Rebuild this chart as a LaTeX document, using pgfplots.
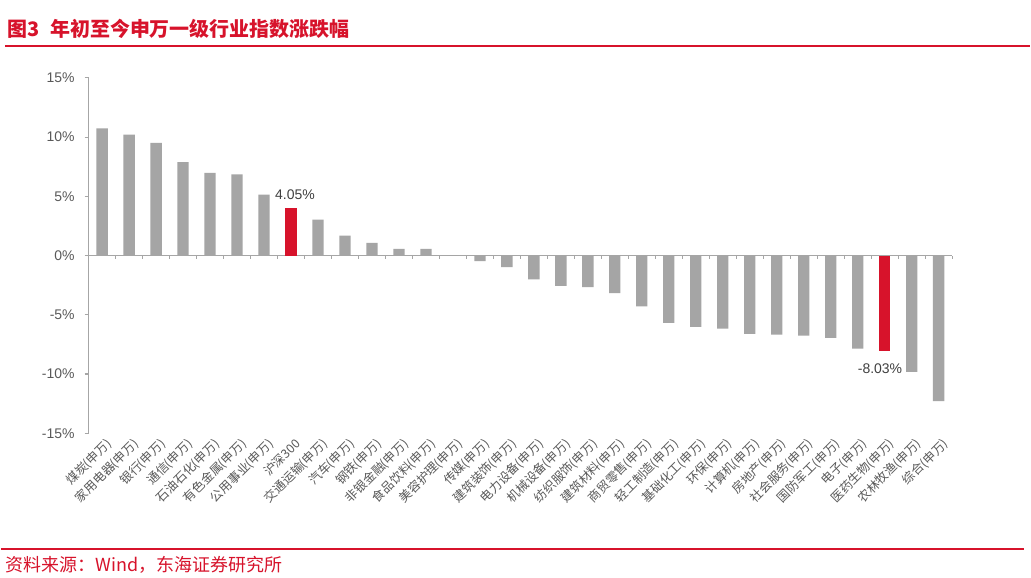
\documentclass[border=0pt]{standalone}
\usepackage{pgfplots}
\pgfplotsset{compat=1.18}
\usepackage{fontspec}
\setmainfont{Liberation Sans}
\newfontfamily\cjk{Noto Sans CJK SC}
\definecolor{dhred}{HTML}{D7132B}
\definecolor{bargray}{HTML}{A5A5A5}
\definecolor{axgray}{HTML}{A6A6A6}
\definecolor{txtgray}{HTML}{595959}

% index, value (%)
\pgfplotstableread{
x y
0 10.73
1 10.20
2 9.52
3 7.89
4 6.99
5 6.85
6 5.15
8 3.04
9 1.69
10 1.07
11 0.56
12 0.56
13 0.00
14 -0.48
15 -0.98
16 -2.02
17 -2.56
18 -2.67
19 -3.18
20 -4.30
21 -5.68
22 -6.02
23 -6.16
24 -6.61
25 -6.67
26 -6.75
27 -6.95
28 -7.85
30 -9.81
31 -12.29
}\graydata
\pgfplotstableread{
x y
7 4.05
}\redup
\pgfplotstableread{
x y
29 -8.03
}\reddown

\begin{document}
\begin{tikzpicture}
\fill[white] (0pt,0pt) rectangle (773.25pt,-434.25pt);
\node[anchor=west, text=dhred, font=\cjk\bfseries\fontsize{15}{18}\selectfont, inner sep=0pt]
  at (4.5pt,-21.75pt) {图3\hspace{0.55em}年初至今申万一级行业指数涨跌幅};
\draw[dhred, line width=1.5pt] (3.5pt,-34.5pt) -- (773.25pt,-34.5pt);
\draw[dhred, line width=1.2pt] (0pt,-412.5pt) -- (769pt,-412.5pt);
\node[anchor=west, text=dhred, font=\cjk\fontsize{13.5}{16}\selectfont, inner sep=0pt]
  at (3.5pt,-424.5pt) {资料来源：Wind，东海证券研究所};

\begin{axis}[
  at={(66pt,-58.5pt)}, anchor=north west,
  scale only axis, width=648.75pt, height=267pt,
  xmin=-0.5, xmax=31.5, ymin=-15, ymax=15,
  axis y line=left, axis x line=middle,
  axis line style={-, draw=axgray, line width=0.8pt},
  hide obscured x ticks=false, hide obscured y ticks=false,
  tick align=outside,
  ytick={-15,-10,...,15},
  yticklabel={\pgfmathprintnumber{\tick}\%},
  /pgf/number format/assume math mode=true,
  yticklabel style={text=txtgray, font=\fontsize{10.5}{12}\selectfont, xshift=-4pt},
  y tick style={draw=axgray, line width=0.8pt},
  major tick length=3pt,
  xtick={0,...,31},
  major x tick style={draw=none},
  minor xtick={-0.5,0.5,...,31.5},
  minor x tick style={draw=axgray, line width=0.8pt},
  minor tick length=2.5pt,
  xticklabels={煤炭(申万),家用电器(申万),银行(申万),通信(申万),石油石化(申万),有色金属(申万),公用事业(申万),沪深300,交通运输(申万),汽车(申万),钢铁(申万),非银金融(申万),食品饮料(申万),美容护理(申万),传媒(申万),建筑装饰(申万),电力设备(申万),机械设备(申万),纺织服饰(申万),建筑材料(申万),商贸零售(申万),轻工制造(申万),基础化工(申万),环保(申万),计算机(申万),房地产(申万),社会服务(申万),国防军工(申万),电子(申万),医药生物(申万),农林牧渔(申万),综合(申万)},
  xticklabel shift=134pt,
  xticklabel style={text=txtgray, font=\cjk\fontsize{9.3}{11}\selectfont, rotate=45, anchor=north east, inner sep=1pt, xshift=3pt},
  ybar, bar width=8.5pt,
  clip=false,
]
\addplot[fill=bargray, draw=none, bar shift=0pt] table[x=x,y=y] {\graydata};
\addplot[fill=dhred, draw=none, bar shift=0pt,
  nodes near coords={\pgfmathprintnumber[fixed,fixed zerofill,precision=2]{\pgfplotspointmeta}\%},
  every node near coord/.append style={text=black!75, font=\fontsize{10.5}{12}\selectfont, inner sep=5.5pt, xshift=3pt}
] table[x=x,y=y] {\redup};
\addplot[fill=dhred, draw=none, bar shift=0pt,
  nodes near coords={\pgfmathprintnumber[fixed,fixed zerofill,precision=2]{\pgfplotspointmeta}\%},
  every node near coord/.append style={text=black!75, font=\fontsize{10.5}{12}\selectfont, inner sep=9.5pt, xshift=-3.5pt}
] table[x=x,y=y] {\reddown};
\end{axis}
\end{tikzpicture}
\end{document}
